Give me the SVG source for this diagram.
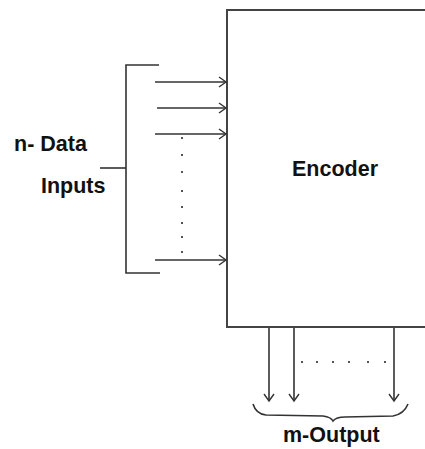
<svg xmlns="http://www.w3.org/2000/svg" width="425" height="449" viewBox="0 0 425 449">
<style>
.ln{stroke:#333;stroke-width:1.6;fill:none}
.bx{stroke:#444;stroke-width:2;fill:#fff}
.t{font-family:"Liberation Sans",Arial,sans-serif;font-weight:bold;font-size:21.5px;fill:#111}
.dot{fill:#555}
</style>
<defs>
<marker id="ah" markerWidth="10" markerHeight="12" refX="8" refY="6" orient="auto" markerUnits="userSpaceOnUse">
<polyline points="1,1 8,6 1,11" fill="none" stroke="#333" stroke-width="1.4"/>
</marker>
</defs>
<g id="encoder">
<rect class="bx" x="227" y="10" width="210" height="317"/>
<text class="t" x="292" y="176">Encoder</text>
</g>
<g id="inputs-label">
<text class="t" x="14" y="151">n- Data</text>
<text class="t" x="41" y="193">Inputs</text>
</g>
<g id="output-label">
<text class="t" x="283" y="442">m-Output</text>
</g>
<g id="connectors">
<polyline class="ln" points="159,65 126,65 126,273 160,273"/>
<line class="ln" x1="100" y1="168" x2="126" y2="168"/>
<line class="ln" x1="155" y1="82" x2="226" y2="82" marker-end="url(#ah)"/>
<line class="ln" x1="157" y1="108" x2="226" y2="108" marker-end="url(#ah)"/>
<line class="ln" x1="155" y1="134" x2="226" y2="134" marker-end="url(#ah)"/>
<line class="ln" x1="155" y1="260" x2="226" y2="260" marker-end="url(#ah)"/>
<line class="ln" x1="269" y1="328" x2="269" y2="401" marker-end="url(#ah)"/>
<line class="ln" x1="294" y1="328" x2="294" y2="401" marker-end="url(#ah)"/>
<line class="ln" x1="394" y1="328" x2="394" y2="401" marker-end="url(#ah)"/>
<path class="ln" d="M253,404 Q256,414 266,415 L323,416 Q331,417 333,421 Q336,417 345,417 L393,416 Q404,414 408,404"/>
<g class="dot">
<rect x="181" y="137" width="2" height="2"/>
<rect x="181" y="154" width="2" height="2"/>
<rect x="181" y="171" width="2" height="2"/>
<rect x="181" y="190" width="2" height="2"/>
<rect x="181" y="206" width="2" height="2"/>
<rect x="181" y="222" width="2" height="2"/>
<rect x="181" y="236" width="2" height="2"/>
<rect x="181" y="251" width="2" height="2"/>
<rect x="301" y="361" width="2" height="2"/>
<rect x="316" y="361" width="2" height="2"/>
<rect x="332" y="361" width="2" height="2"/>
<rect x="348" y="361" width="2" height="2"/>
<rect x="367" y="361" width="2" height="2"/>
<rect x="384" y="361" width="2" height="2"/>
</g>
</g>
</svg>
